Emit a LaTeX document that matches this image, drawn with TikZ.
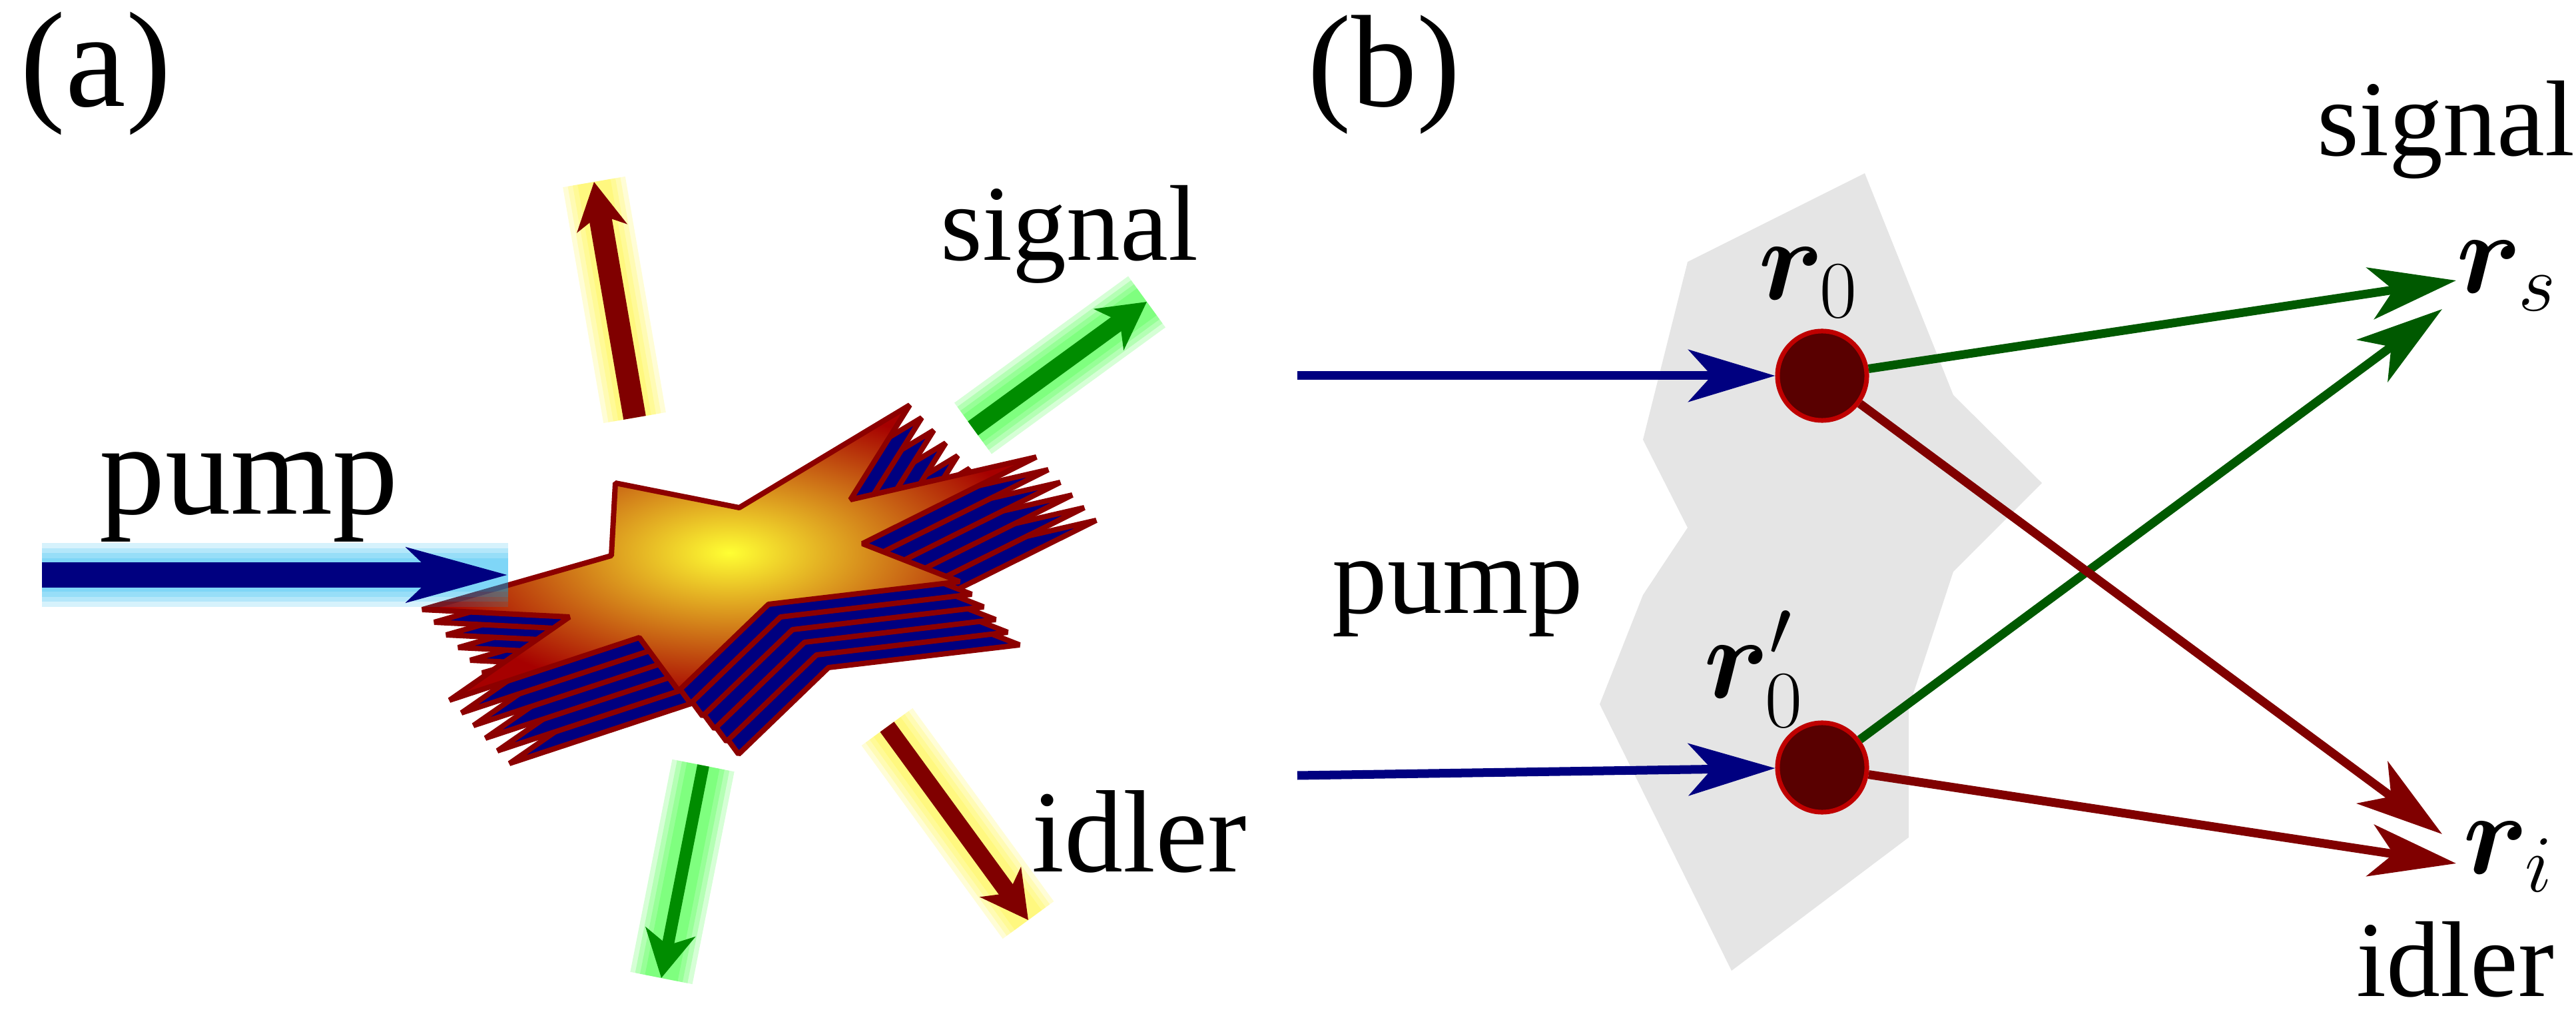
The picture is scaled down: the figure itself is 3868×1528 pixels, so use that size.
\documentclass[tikz,border=0pt]{standalone}
\usepackage{graphicx}
\usepackage{fontspec}
\setmainfont{Liberation Serif}
\usepackage{amsmath,bm}
\usetikzlibrary{arrows.meta}
\newcommand{\fsz}[1]{\fontsize{#1}{#1}\selectfont}
\newcommand{\bigmath}[1]{\scalebox{2}{\fsz{24}$#1$}}
% star outline of the crystal
\def\starpath{(924,725) -- (1110,762) -- (1366,608) -- (1277,750) -- (1556,686) -- (1295,816) -- (1441,873) -- (1154,907) -- (1019,1037) -- (960,957) -- (675,1051) -- (855,926) -- (634,915) -- (918,834) -- cycle}
\begin{document}
\begin{tikzpicture} [x=0.01cm, y=-0.01cm,
  lbl/.style={anchor=base west, inner sep=0pt},
  glow/.style={opacity=0.16, draw=#1},
  beam/.style={line width=0.34cm, -{Stealth[length=0.7cm,width=0.75cm,inset=0.2cm]}},
  ray/.style={line width=0.13cm, -{Stealth[length=1.3cm,width=0.78cm,inset=0.35cm]}},
  site/.style={circle, draw=red!75!black, line width=0.07cm, fill=red!35!black, minimum size=1.34cm, inner sep=0pt}]
\useasboundingbox (0,0) rectangle (3868,1528);
{
  %% (a) crystal
  \node [lbl] (la) at (30,160) {\fsz{58}(a)};
  \foreach \i in {5,...,1}
    \filldraw [fill=blue!50!black, draw=red!55!black, line width=0.08cm, line join=bevel, shift={(\i*18,\i*19)}] \starpath;
  \shade [inner color=yellow!80, outer color=red!65!black, draw=red!55!black, line width=0.08cm, line join=bevel] \starpath;
  % glowing beams
  \coordinate (p0) at (63,863);   \coordinate (p1) at (763,863);
  \coordinate (u0) at (953,627);  \coordinate (u1) at (892,273);
  \coordinate (s0) at (1461,643); \coordinate (s1) at (1722,453);
  \coordinate (d0) at (1056,1149);\coordinate (d1) at (993,1468);
  \coordinate (i0) at (1332,1091);\coordinate (i1) at (1544,1381);
  \foreach \a/\b/\c in {p0/p1/cyan, u0/u1/yellow, s0/s1/green, d0/d1/green, i0/i1/yellow}
    \foreach \w in {0.95,0.8,0.65,0.5}
      \draw [glow=\c, line width=\w cm] (\a) -- (\b);
  \draw [beam, blue!50!black, line width=0.37cm, -{Stealth[length=1.5cm,width=0.8cm,inset=0.4cm]}] (p0) -- (p1);
  \draw [beam, red!50!black] (u0) -- (u1);
  \draw [beam, green!55!black, line width=0.26cm] (s0) -- (s1);
  \draw [beam, green!55!black, line width=0.18cm] (d0) -- (d1);
  \draw [beam, red!50!black, line width=0.26cm] (i0) -- (i1);
  \node [lbl] (pumpa) at (149,772) {\fsz{56}pump};
  \node [lbl] (signala) at (1412,391) {\fsz{46}signal};
  \node [lbl] (idlera) at (1549,1308) {\fsz{50}idler};

  %% (b) two sources
  \node [lbl] (lb) at (1963,160) {\fsz{56}(b)};
  \fill [black!10] (2534,393) -- (2800,260) -- (2933,593) -- (3066,725) -- (2933,858) -- (2866,1062) -- (2866,1257) -- (2600,1457) -- (2402,1057) -- (2467,893) -- (2534,792) -- (2467,660) -- cycle;
  \node [site] (r0) at (2736,564) {};
  \node [site] (r1) at (2736,1152) {};
  \node (lr0) at (2716,424) {\bigmath{\bm{r}_0}};
  \node (lr1) at (2634,1004) {\bigmath{\bm{r}'_0}};
  \node (rs) at (3765,414) {\bigmath{\bm{r}_s}};
  \node (ri) at (3767,1286) {\bigmath{\bm{r}_i}};
  \coordinate (in0) at (1948,564);
  \coordinate (in1) at (1948,1164);
  \coordinate (ts0) at (3688,421);  \coordinate (ts1) at (3667,464);
  \coordinate (ti0) at (3667,1252); \coordinate (ti1) at (3688,1296);
  % Draw edges
  \draw [ray, blue!50!black] (in0) -- (r0);
  \draw [ray, blue!50!black] (in1) -- (r1);
  \draw [ray, green!35!black] (r0) -- (ts0);
  \draw [ray, green!35!black] (r1) -- (ts1);
  \draw [ray, red!50!black] (r0) -- (ti0);
  \draw [ray, red!50!black] (r1) -- (ti1);
  \node [lbl] (pumpb) at (2000,921) {\fsz{47}pump};
  \node [lbl] (signalb) at (3479,234) {\fsz{46}signal};
  \node [lbl] (idlerb) at (3538,1495) {\fsz{46}idler};
}
\end{tikzpicture}
\end{document}
